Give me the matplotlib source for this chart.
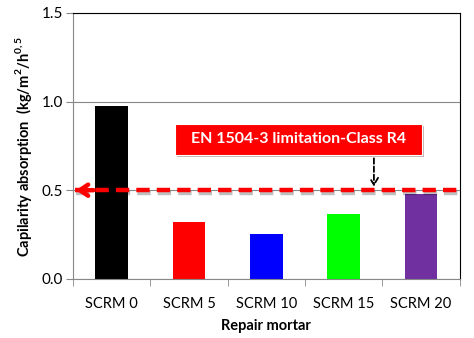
import matplotlib.pyplot as plt
import matplotlib.patheffects as pe
import matplotlib.patches as mpatches
import numpy as np

plt.rcParams['font.family'] = ['Lato', 'DejaVu Sans']
plt.rcParams['mathtext.fontset'] = 'custom'
plt.rcParams['mathtext.bf'] = 'Lato:bold'
plt.rcParams['mathtext.rm'] = 'Lato'

mortars = ["SCRM 0", "SCRM 5", "SCRM 10", "SCRM 15", "SCRM 20"]
absorption = [0.976, 0.32, 0.254, 0.367, 0.48]
bar_colors = ["#000000", "#ff0000", "#0000ff", "#00ff00", "#7030a0"]
limit_r4 = 0.5
limit_text = "EN 1504-3 limitation-Class R4"

fig = plt.figure(figsize=(4.74, 3.38), dpi=100)
ax = fig.add_axes([0.154, 0.175, 0.816, 0.787])

x = np.arange(len(mortars))
ax.bar(x, absorption, width=0.42, color=bar_colors, zorder=2)

ax.set_xlim(-0.5, len(mortars) - 0.5)
ax.set_ylim(0, 1.5)
ax.set_yticks([0, 0.5, 1.0, 1.5])
ax.set_yticklabels(["0.0", "0.5", "1.0", "1.5"], fontsize=11)
ax.set_xticks(x)
ax.set_xticklabels(mortars, fontsize=10.5)
ax.set_xticks(np.arange(len(mortars) + 1) - 0.5, minor=True)
ax.tick_params(axis='x', which='major', length=0, pad=13)
ax.tick_params(axis='x', which='minor', length=5, color='#888888')
ax.tick_params(axis='y', length=5, color='#888888', pad=2)
ax.grid(axis='y', color='#888888', linewidth=0.8, zorder=0)
ax.set_axisbelow(True)

ax.spines['left'].set_color('#888888')
ax.spines['bottom'].set_color('#888888')
ax.spines['top'].set_color('black')
ax.spines['right'].set_color('black')

ax.set_ylabel(r"Capilarity absorption  (kg/m$^{\mathbf{2}}$/h$^{\mathbf{0,5}}$",
              fontsize=10.5, fontweight='bold', labelpad=6)
ax.set_xlabel("Repair mortar", fontsize=10.5, fontweight='bold', labelpad=6)

# red limit line with left arrow
ax.plot([-0.48, 4.5], [limit_r4, limit_r4], color='#ff0000', lw=3.2,
        ls=(0, (3, 1.6)), zorder=4, clip_on=False,
        path_effects=[pe.SimpleLineShadow(offset=(1, -2), alpha=0.25), pe.Normal()])
ax.annotate("", xy=(-0.5, limit_r4), xytext=(-0.2, limit_r4),
            arrowprops=dict(arrowstyle='->,head_length=0.6,head_width=0.4',
                            color='#ff0000', lw=3.2),
            zorder=5, annotation_clip=False)

# label box and pointer
box = mpatches.Rectangle((0.818, 0.70), 4.01 - 0.818, 0.874 - 0.70,
                         facecolor='#ff0000', edgecolor='white', lw=0.8, zorder=6,
                         path_effects=[pe.SimplePatchShadow(offset=(1.5, -1.5), alpha=0.3),
                                       pe.Normal()])
ax.add_patch(box)
ax.text((0.818 + 4.01) / 2, 0.787, limit_text, color='white', fontsize=11.5,
        fontweight='bold', ha='center', va='center', zorder=7)
ax.annotate("", xy=(3.39, limit_r4 + 0.005), xytext=(3.39, 0.695),
            arrowprops=dict(arrowstyle='->,head_length=0.5,head_width=0.3',
                            color='black', lw=1.3, ls=(0, (3, 1.5))),
            zorder=5)

fig.savefig("out.png", dpi=100)
